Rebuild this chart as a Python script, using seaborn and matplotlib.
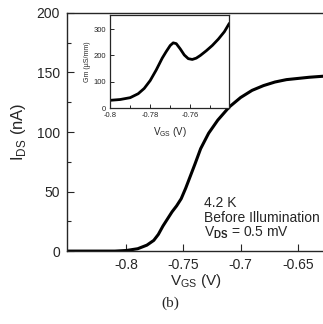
import numpy as np
import pandas as pd
import matplotlib
matplotlib.use("Agg")
import matplotlib.pyplot as plt
from matplotlib.ticker import MultipleLocator, FixedLocator
import seaborn as sns

# Main curve: I_DS (nA) vs V_GS (V)
vgs = [-0.852, -0.83, -0.81, -0.80, -0.79, -0.782, -0.776, -0.772, -0.768, -0.764,
       -0.76, -0.756, -0.752, -0.748, -0.744, -0.740, -0.735, -0.728, -0.72, -0.71,
       -0.70, -0.69, -0.68, -0.67, -0.66, -0.65, -0.64, -0.626]
ids = [0, 0, 0, 0.5, 2, 5, 9, 14, 21, 27,
       33, 38, 44, 53, 63, 73, 86, 99, 110, 121,
       129, 135, 139, 142, 144, 145, 146, 147]

# Inset: Gm (uS/mm) vs V_GS (V)
inset_vgs = [-0.800, -0.795, -0.790, -0.786, -0.783, -0.780, -0.777, -0.774, -0.772,
             -0.770, -0.7685, -0.767, -0.765, -0.763, -0.761, -0.759, -0.757, -0.755,
             -0.752, -0.749, -0.746, -0.743, -0.7405]
inset_gm = [30, 33, 40, 55, 75, 105, 145, 190, 215,
            238, 248, 245, 225, 202, 188, 185, 190, 200,
            218, 238, 262, 290, 322]

main_xticks = [-0.8, -0.75, -0.7, -0.65]
main_xlabels = ["-0.8", "-0.75", "-0.7", "-0.65"]
inset_xticks = [-0.8, -0.78, -0.76]
inset_xlabels = ["-0.8", "-0.78", "-0.76"]

sns.set_style("ticks")
plt.rcParams["font.family"] = ["Liberation Sans", "DejaVu Sans"]
plt.rcParams["mathtext.fontset"] = "custom"
plt.rcParams["mathtext.rm"] = "Liberation Sans"
plt.rcParams["mathtext.bf"] = "Liberation Sans:bold"

fig = plt.figure(figsize=(3.23, 3.24), dpi=100)

# Main axes
ax = fig.add_axes([0.207, 0.225, 0.80, 0.735])
df = pd.DataFrame({"vgs": vgs, "ids": ids})
sns.lineplot(data=df, x="vgs", y="ids", ax=ax, color="black", linewidth=2.2)
ax.set_xlim(-0.852, -0.626)
ax.set_ylim(0, 200)
ax.xaxis.set_major_locator(FixedLocator(main_xticks))
ax.set_xticklabels(main_xlabels)
ax.yaxis.set_major_locator(MultipleLocator(50))
ax.yaxis.set_minor_locator(MultipleLocator(25))
ax.tick_params(which="both", direction="in", labelsize=10, pad=5, width=0.8)
ax.tick_params(which="major", length=5)
ax.tick_params(which="minor", length=3)
ax.spines["right"].set_visible(False)
for s in ["left", "bottom", "top"]:
    ax.spines[s].set_linewidth(1.0)
ax.set_xlabel("V$_{\\rm GS}$ (V)", fontsize=11, labelpad=0)
ax.set_ylabel("I$_{\\rm DS}$ (nA)", fontsize=12, labelpad=6)

# annotation block, one line at a time
ax.text(0.53, 0.185, "4.2 K", transform=ax.transAxes,
        fontsize=10, va="baseline", ha="left")
ax.text(0.53, 0.122, "Before Illumination", transform=ax.transAxes,
        fontsize=10, va="baseline", ha="left")
ax.text(0.53, 0.062, "V$_{\\mathbf{DS}}$ = 0.5 mV", transform=ax.transAxes,
        fontsize=10, va="baseline", ha="left")

# Inset axes
ins = fig.add_axes([0.341, 0.666, 0.369, 0.288])
dfi = pd.DataFrame({"vgs": inset_vgs, "gm": inset_gm})
sns.lineplot(data=dfi, x="vgs", y="gm", ax=ins, color="black", linewidth=2.0)
ins.set_xlim(-0.8, -0.7405)
ins.set_ylim(0, 354)
ins.xaxis.set_major_locator(FixedLocator(inset_xticks))
ins.set_xticklabels(inset_xlabels)
ins.xaxis.set_minor_locator(MultipleLocator(0.01))
ins.yaxis.set_major_locator(MultipleLocator(100))
ins.tick_params(which="both", direction="in", labelsize=5.5, pad=3, width=0.7)
ins.tick_params(which="major", length=3)
ins.tick_params(which="minor", length=2)
for s in ins.spines.values():
    s.set_linewidth(0.9)
ins.set_xlabel("V$_{\\rm GS}$ (V)", fontsize=7, labelpad=4)
ins.set_ylabel("Gm (\u00b5S/mm)", fontsize=5, labelpad=2)

fig.text(0.527, 0.065, "(b)", fontsize=11, family="Liberation Serif",
         ha="center", va="center")

fig.savefig("out.png", dpi=100)
